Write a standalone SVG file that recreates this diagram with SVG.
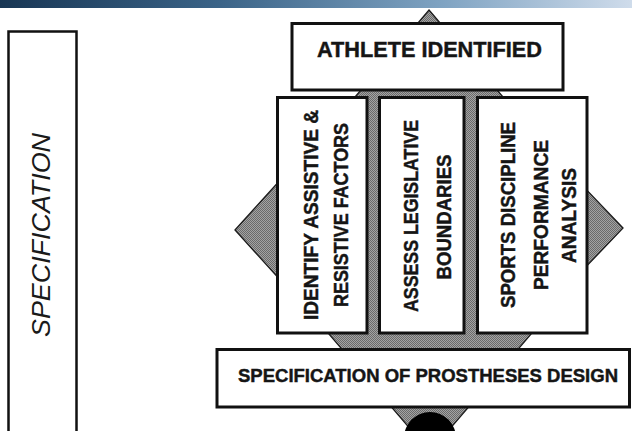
<svg xmlns="http://www.w3.org/2000/svg" width="632" height="431" viewBox="0 0 632 431">
  <defs>
    <linearGradient id="bar" x1="0" y1="0" x2="1" y2="0">
      <stop offset="0" stop-color="#183654"/>
      <stop offset="0.35" stop-color="#3b6488"/>
      <stop offset="0.7" stop-color="#7fa3c2"/>
      <stop offset="1" stop-color="#cfdceb"/>
    </linearGradient>
    <pattern id="hatch" width="2" height="2" patternUnits="userSpaceOnUse">
      <rect width="2" height="2" fill="#a3a3a3"/>
      <rect width="1" height="1" fill="#6a6a6a"/>
      <rect x="1" y="1" width="1" height="1" fill="#6a6a6a"/>
    </pattern>
    <style>
      .flow { fill: url(#hatch); stroke: #1a1a1a; stroke-width: 1.3; stroke-linejoin: miter; }
      .box { fill: #ffffff; stroke: #111111; stroke-width: 3; }
      .lbl { font-family: "Liberation Sans", Arial, sans-serif; font-weight: bold; fill: #151515; stroke: #151515; stroke-width: 0.45; text-anchor: middle; }
      .side { font-family: "Liberation Sans", Arial, sans-serif; font-style: italic; fill: #1a1a1a; text-anchor: middle; }
    </style>
  </defs>

  <!-- header strip -->
  <rect x="0" y="0" width="632" height="8" fill="url(#bar)"/>

  <!-- stage label -->
  <g id="stage-specification">
    <rect x="8.5" y="31.5" width="68" height="420" fill="#ffffff" stroke="#111111" stroke-width="2.5"/>
    <text class="side" font-size="25" transform="translate(50,235) rotate(-90)" textLength="204" lengthAdjust="spacingAndGlyphs">SPECIFICATION</text>
  </g>

  <!-- connectors: hatched flow arrows behind the boxes -->
  <g id="connectors">
    <polygon class="flow" points="235,230 283,177 283,283"/>
    <polygon class="flow" points="623,228 581,184 581,272"/>
    <polygon class="flow" points="429,10 503,97 503,333 532,333 430,452 328,333 355,333 355,97"/>
    <circle cx="430" cy="438" r="26" fill="#000000"/>
  </g>

  <g id="athlete-identified">
    <rect class="box" x="292" y="23.5" width="271" height="66.5"/>
    <text class="lbl" font-size="22" x="429.5" y="57" textLength="225" lengthAdjust="spacingAndGlyphs">ATHLETE IDENTIFIED</text>
  </g>

  <g id="assistive-resistive">
    <rect class="box" x="277.5" y="97.5" width="89.5" height="235.5"/>
    <text class="lbl" font-size="21" transform="translate(317.5,215) rotate(-90)" textLength="210" lengthAdjust="spacingAndGlyphs">IDENTIFY ASSISTIVE &amp;</text>
    <text class="lbl" font-size="21" transform="translate(347.5,215) rotate(-90)" textLength="184" lengthAdjust="spacingAndGlyphs">RESISTIVE FACTORS</text>
  </g>

  <g id="legislative-boundaries">
    <rect class="box" x="379.5" y="97.5" width="84.5" height="235.5"/>
    <text class="lbl" font-size="21" transform="translate(418,216) rotate(-90)" textLength="192" lengthAdjust="spacingAndGlyphs">ASSESS LEGISLATIVE</text>
    <text class="lbl" font-size="21" transform="translate(451,217) rotate(-90)" textLength="125" lengthAdjust="spacingAndGlyphs">BOUNDARIES</text>
  </g>

  <g id="discipline-analysis">
    <rect class="box" x="477.5" y="97.5" width="109.5" height="235.5"/>
    <text class="lbl" font-size="21" transform="translate(514.5,215) rotate(-90)" textLength="186" lengthAdjust="spacingAndGlyphs">SPORTS DISCIPLINE</text>
    <text class="lbl" font-size="21" transform="translate(547.5,215) rotate(-90)" textLength="150" lengthAdjust="spacingAndGlyphs">PERFORMANCE</text>
    <text class="lbl" font-size="21" transform="translate(575.5,215.5) rotate(-90)" textLength="95" lengthAdjust="spacingAndGlyphs">ANALYSIS</text>
  </g>

  <g id="prostheses-design">
    <rect class="box" x="217" y="349.5" width="412.5" height="57.5"/>
    <text class="lbl" font-size="19" x="428" y="382" textLength="380" lengthAdjust="spacingAndGlyphs">SPECIFICATION OF PROSTHESES DESIGN</text>
  </g>
</svg>
